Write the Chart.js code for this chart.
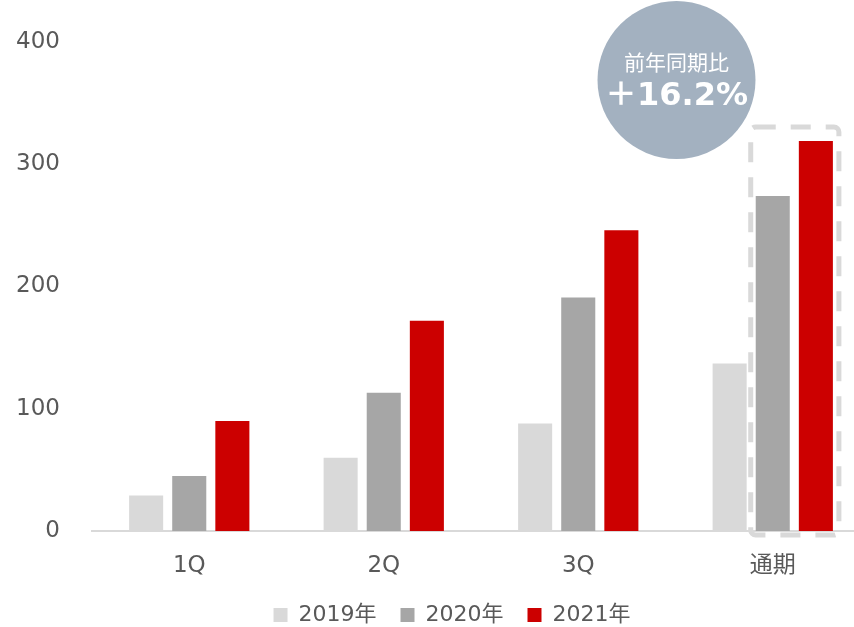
<!DOCTYPE html>
<html>
<head>
<meta charset="utf-8">
<script src="https://cdn.jsdelivr.net/npm/chart.js@4/dist/chart.umd.min.js"></script>
<style>
  html, body { margin: 0; padding: 0; background: #fff; overflow: hidden; }
  #wrap { width: 854px; height: 627px; overflow: hidden; position: relative; }
  #box { width: 870px; height: 636px; position: absolute; left: 0; top: 0; }
</style>
</head>
<body>
<div id="wrap"><div id="box"><canvas id="c"></canvas></div></div>
<script>
const categories = ['1Q', '2Q', '3Q', '通期'];
const seriesNames = ['2019年', '2020年', '2021年'];
const values2019 = [29, 60, 88, 137];
const values2020 = [45, 113, 191, 274];
const values2021 = [90, 172, 246, 319];
const yTicks = [0, 100, 200, 300, 400];
const badgeTitle = '前年同期比';
const badgeValue = '＋16.2%';

const FONT = '"DejaVu Sans", "Noto Sans CJK JP", sans-serif';
const TEXT = '#595959';
const TICK_SIZE = 23;

// width of the widest y tick label (used to right-align mirrored labels)
const mctx = document.createElement('canvas').getContext('2d');
mctx.font = TICK_SIZE + 'px ' + FONT;
const widestY = Math.max(...yTicks.map(v => mctx.measureText(String(v)).width));

const annotations = {
  id: 'annotations',
  afterDatasetsDraw(chart) {
    const ctx = chart.ctx;
    const x = chart.scales.x, y = chart.scales.y;
    // dashed highlight box around the full-year 2020/2021 bars
    const b1 = chart.getDatasetMeta(1).data[3];
    const b2 = chart.getDatasetMeta(2).data[3];
    const left = b1.x - b1.width / 2 - 5;
    const right = b2.x + b2.width / 2 + 6;
    const top = y.getPixelForValue(330.5);
    const bottom = y.getPixelForValue(0) + 4;
    ctx.save();
    ctx.strokeStyle = '#d9d9d9';
    ctx.lineWidth = 5;
    ctx.setLineDash([20, 15]);
    ctx.beginPath();
    if (ctx.roundRect) ctx.roundRect(left, top, right - left, bottom - top, 5);
    else ctx.rect(left, top, right - left, bottom - top);
    ctx.stroke();
    ctx.restore();

    // badge circle
    const cx = x.getPixelForValue(2.5) + 1;
    const cy = y.getPixelForValue(369);
    ctx.save();
    ctx.fillStyle = '#a3b1c0';
    ctx.beginPath();
    ctx.arc(cx, cy, 79, 0, Math.PI * 2);
    ctx.fill();
    ctx.fillStyle = '#ffffff';
    ctx.textAlign = 'center';
    ctx.textBaseline = 'middle';
    ctx.font = '21px ' + FONT;
    ctx.fillText(badgeTitle, cx, cy - 15);
    ctx.font = 'bold 32px ' + FONT;
    ctx.fillText(badgeValue, cx, cy + 17);
    ctx.restore();
  }
};

new Chart(document.getElementById('c'), {
  type: 'bar',
  data: {
    labels: categories,
    datasets: [
      { label: seriesNames[0], data: values2019, backgroundColor: '#d9d9d9' },
      { label: seriesNames[1], data: values2020, backgroundColor: '#a6a6a6' },
      { label: seriesNames[2], data: values2021, backgroundColor: '#cc0000' }
    ]
  },
  options: {
    responsive: true,
    maintainAspectRatio: false,
    animation: false,
    events: [],
    layout: { padding: { left: 34, right: 0, top: 42, bottom: 0 } },
    datasets: { bar: { categoryPercentage: 0.665, barPercentage: 0.79 } },
    plugins: {
      tooltip: { enabled: false },
      legend: {
        position: 'bottom',
        labels: {
          color: TEXT,
          font: { family: FONT, size: 22 },
          boxWidth: 14,
          boxHeight: 14,
          padding: 24
        }
      }
    },
    scales: {
      x: {
        afterFit(scale) { scale.height = 49; },
        grid: { display: false, drawTicks: false },
        border: { display: true, color: '#d9d9d9', width: 2 },
        ticks: { color: TEXT, font: { family: FONT, size: TICK_SIZE }, padding: 21 }
      },
      y: {
        min: 0,
        max: 400,
        afterBuildTicks(scale) { scale.ticks = yTicks.map(v => ({ value: v })); },
        afterFit(scale) { scale.width = 58; },
        grid: { display: false, drawTicks: false },
        border: { display: false },
        ticks: {
          color: TEXT,
          font: { family: FONT, size: TICK_SIZE },
          mirror: true,
          crossAlign: 'far',
          padding: -32 - widestY
        }
      }
    }
  },
  plugins: [annotations]
});
</script>
</body>
</html>
